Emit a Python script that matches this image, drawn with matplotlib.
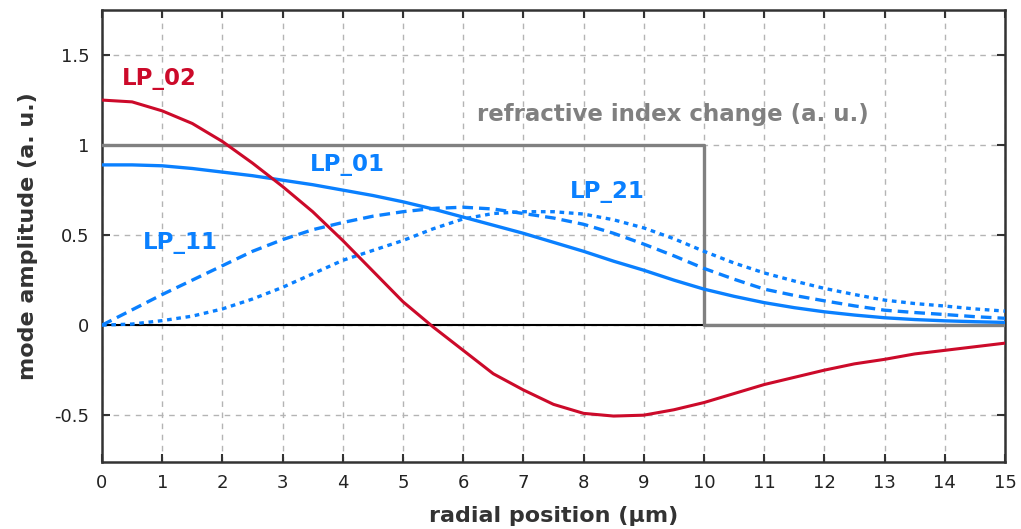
import matplotlib.pyplot as plt
import numpy as np

# radial position (um), sampled every 0.5 um
r = np.arange(0, 15.01, 0.5)

lp01 = [0.89, 0.89, 0.885, 0.87, 0.85, 0.83, 0.805, 0.78, 0.75, 0.72, 0.685,
        0.645, 0.60, 0.555, 0.51, 0.46, 0.41, 0.355, 0.305, 0.25, 0.20,
        0.16, 0.125, 0.097, 0.074, 0.056, 0.041, 0.031, 0.024, 0.019, 0.015]
lp11 = [0.0, 0.085, 0.17, 0.25, 0.33, 0.41, 0.475, 0.53, 0.57, 0.605, 0.63,
        0.648, 0.655, 0.645, 0.62, 0.595, 0.56, 0.51, 0.45, 0.385, 0.315,
        0.255, 0.20, 0.165, 0.135, 0.107, 0.083, 0.07, 0.059, 0.047, 0.038]
lp21 = [0.0, 0.006, 0.025, 0.05, 0.09, 0.145, 0.21, 0.285, 0.36, 0.415, 0.47,
        0.535, 0.59, 0.62, 0.63, 0.63, 0.617, 0.585, 0.54, 0.48, 0.41,
        0.345, 0.29, 0.245, 0.204, 0.17, 0.139, 0.12, 0.106, 0.09, 0.078]
lp02 = [1.25, 1.24, 1.19, 1.12, 1.02, 0.90, 0.77, 0.63, 0.47, 0.30, 0.13,
        -0.01, -0.14, -0.27, -0.36, -0.44, -0.49, -0.505, -0.50, -0.47, -0.43,
        -0.38, -0.33, -0.29, -0.25, -0.215, -0.19, -0.16, -0.14, -0.12, -0.10]

# refractive index step profile
step_x = [0, 10, 10, 15]
step_y = [1, 1, 0, 0]

RED = '#cc0a2a'
BLUE = '#0a80ff'
GRAY = '#808080'
DARK = '#333333'

fig = plt.figure(figsize=(10.21, 5.29), dpi=100)
ax = fig.add_axes([0.0999, 0.1267, 0.8844, 0.8543])

ax.axhline(0, color='black', lw=1.5, zorder=2)
ax.plot(step_x, step_y, color=GRAY, lw=2.4, zorder=3)
ax.plot(r, lp01, color=BLUE, lw=2.4, zorder=4)
ax.plot(r, lp11, color=BLUE, lw=2.4, linestyle=(0, (3.2, 1.8)), zorder=4)
ax.plot(r, lp21, color=BLUE, lw=2.4, linestyle=(0, (1.4, 1.4)), zorder=4)
ax.plot(r, lp02, color=RED, lw=2.2, zorder=5)

ax.set_xlim(0, 15)
ax.set_ylim(-0.76, 1.75)
ax.set_xticks(range(16))
ax.set_yticks([-0.5, 0, 0.5, 1, 1.5])
ax.set_yticklabels(['-0.5', '0', '0.5', '1', '1.5'])
ax.grid(True, color='#b4b4b4', linestyle=(0, (4, 4)), lw=1)
ax.tick_params(direction='in', top=True, right=True, length=6, width=1.5,
               color=DARK, labelsize=13, labelcolor='#222222', pad=9)
for s in ax.spines.values():
    s.set_color(DARK)
    s.set_linewidth(1.8)

ax.set_xlabel('radial position (µm)', fontsize=16, fontweight='bold', color=DARK, labelpad=10)
ax.set_ylabel('mode amplitude (a. u.)', fontsize=16, fontweight='bold', color=DARK, labelpad=12)

lbl = dict(fontsize=16.5, fontweight='bold', va='center', ha='left')
ax.text(0.33, 1.37, 'LP_02', color=RED, **lbl)
ax.text(3.46, 0.89, 'LP_01', color=BLUE, **lbl)
ax.text(0.68, 0.46, 'LP_11', color=BLUE, **lbl)
ax.text(7.77, 0.74, 'LP_21', color=BLUE, **lbl)
ax.text(6.23, 1.17, 'refractive index change (a. u.)', color=GRAY,
        fontsize=16.5, fontweight='bold', va='center', ha='left')

fig.savefig('out.png', dpi=100)
